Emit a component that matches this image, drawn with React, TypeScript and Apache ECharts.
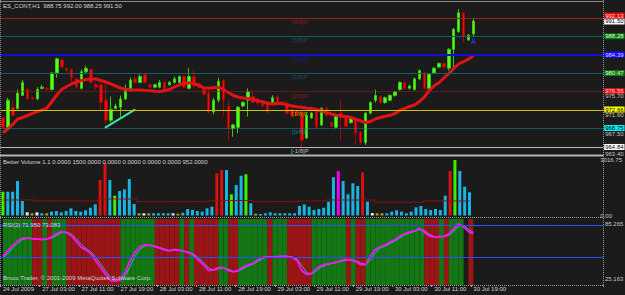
import React, { useEffect, useRef } from "react";
import * as echarts from "echarts";

// ---------- categories (hourly bars, ES_CONT H1) ----------
const sessions = [
  { day: "24 Jul", from: 19, to: 23 },
  { day: "27 Jul", from: 0, to: 23 },
  { day: "28 Jul", from: 0, to: 23 },
  { day: "29 Jul", from: 0, to: 23 },
  { day: "30 Jul", from: 0, to: 19 },
];
const barTimes: string[] = [];
sessions.forEach((s) => {
  for (let h = s.from; h <= s.to; h++) barTimes.push(`${s.day} ${String(h).padStart(2, "0")}:00`);
});
const SLOTS = 123; // visible bar slots incl. empty right margin
const slotLabels: string[] = barTimes.concat(Array(SLOTS - barTimes.length).fill(""));

// ---------- price data: [open, close, low, high] ----------
const candles: number[][] = [
  [971.0, 969.0, 968.75, 971.25], [969.0, 974.75, 968.75, 975.25], [973.25, 971.5, 971.5, 974.75], [973.0, 976.25, 972.75, 977.0],
  [975.75, 978.5, 975.75, 979.0], [977.0, 975.0, 974.75, 977.25], [975.25, 975.0, 974.75, 975.5], [975.0, 977.0, 974.75, 977.5],
  [977.25, 977.5, 977.0, 978.0], [977.25, 977.0, 976.75, 977.5], [977.0, 980.5, 976.75, 980.75], [980.5, 983.5, 979.5, 983.75],
  [983.25, 981.75, 981.5, 983.5], [981.5, 981.0, 980.75, 981.75], [981.25, 979.5, 978.5, 981.5], [979.25, 977.5, 977.25, 979.5],
  [977.25, 980.75, 977.0, 981.25], [980.75, 981.5, 980.5, 982.0], [981.25, 978.5, 978.5, 981.5], [978.0, 977.5, 977.0, 978.5],
  [978.0, 974.25, 972.75, 978.25], [974.75, 970.5, 968.75, 978.5], [970.5, 972.75, 970.0, 975.5], [973.0, 973.5, 973.0, 974.0],
  [973.25, 975.0, 971.25, 975.75], [975.0, 977.0, 974.75, 978.0], [977.0, 979.0, 976.5, 979.5], [979.25, 978.5, 978.5, 979.75],
  [978.5, 979.75, 978.5, 980.25], [980.25, 978.5, 978.25, 980.5], [978.0, 977.5, 977.25, 978.25], [977.5, 978.0, 977.25, 978.25],
  [977.5, 978.5, 977.25, 979.0], [978.5, 977.0, 976.75, 978.75], [978.0, 978.5, 977.75, 978.75], [978.5, 979.25, 978.25, 979.75],
  [978.5, 979.75, 978.25, 980.0], [979.75, 977.5, 977.25, 980.0], [977.25, 979.75, 977.0, 981.5], [979.75, 977.75, 977.25, 981.25],
  [978.25, 977.5, 977.25, 978.5], [977.0, 976.0, 975.75, 977.25], [976.25, 972.25, 972.0, 977.0], [972.25, 974.75, 971.75, 975.25],
  [974.75, 978.75, 974.25, 979.5], [979.0, 974.75, 971.5, 979.25], [973.5, 968.75, 966.25, 974.75], [968.75, 969.5, 967.0, 969.75],
  [969.0, 973.25, 967.75, 973.5], [973.5, 974.25, 973.25, 974.5], [974.75, 976.5, 971.25, 977.25], [975.5, 974.25, 974.25, 977.0],
  [975.0, 974.0, 973.75, 975.25], [974.25, 973.5, 973.25, 974.5], [974.25, 972.25, 972.0, 974.5], [974.25, 975.25, 974.0, 975.75],
  [975.5, 974.25, 974.0, 975.75], [974.25, 973.75, 973.5, 974.5], [974.0, 972.0, 971.75, 974.75], [972.75, 971.5, 971.25, 973.0],
  [972.5, 971.75, 971.5, 972.75], [972.0, 966.25, 964.75, 972.5], [966.75, 971.5, 966.5, 972.0], [971.0, 972.0, 970.75, 972.25],
  [972.75, 969.0, 968.75, 973.0], [969.5, 973.0, 969.25, 973.25], [973.0, 971.5, 971.25, 973.25], [970.0, 969.25, 969.0, 970.25],
  [969.0, 971.5, 968.75, 971.75], [972.0, 971.25, 966.25, 974.75], [971.25, 969.25, 969.0, 971.5], [970.0, 971.0, 969.75, 971.25],
  [970.5, 967.75, 965.25, 970.75], [968.0, 965.75, 965.25, 968.25], [965.75, 972.0, 965.25, 972.25], [972.0, 974.25, 971.75, 974.5],
  [974.75, 975.75, 974.25, 977.0], [975.5, 974.25, 974.0, 975.75], [974.25, 975.25, 974.0, 975.5], [974.75, 975.75, 974.5, 976.0],
  [975.75, 976.5, 975.5, 976.75], [977.0, 978.5, 976.75, 978.75], [978.5, 977.25, 977.0, 978.75], [977.25, 977.75, 977.0, 978.0],
  [977.0, 979.25, 976.75, 979.5], [979.25, 981.0, 979.0, 981.25], [980.5, 977.25, 977.0, 980.75], [977.25, 980.25, 977.0, 980.5],
  [980.5, 981.5, 980.25, 981.75], [981.75, 982.5, 981.5, 982.75], [982.5, 981.75, 981.5, 982.75], [981.5, 985.5, 981.0, 985.75],
  [985.5, 989.75, 981.75, 990.0], [989.25, 993.25, 989.0, 994.0], [993.25, 988.25, 987.0, 993.5], [987.5, 988.5, 987.25, 988.75],
  [988.75, 991.5, 988.25, 992.0],
];

const maLine = [
  967.86, 968.64, 969.6, 970.76, 971.08, 971.5, 971.92, 972.35, 972.66, 973.09,
  974.46, 975.84, 977.0, 977.64, 978.17, 978.59, 978.91, 979.12, 979.22, 979.22,
  978.91, 978.59, 978.17, 977.74, 977.32, 977.04, 976.96, 976.9, 976.9, 976.79,
  976.75, 976.64, 976.58, 976.73, 977.0, 977.53, 978.0, 978.31, 978.44, 978.27,
  977.89, 977.36, 977.26, 977.4, 977.47, 977.0, 976.37, 975.73, 975.41, 975.2,
  975.08, 974.95, 974.61, 974.4, 974.1, 973.93, 974.04, 974.08, 973.76, 973.51,
  973.34, 973.24, 973.02, 972.98, 972.77, 972.45, 972.13, 971.82, 971.56, 971.39,
  971.29, 971.08, 970.7, 970.34, 970.02, 970.23, 970.76, 971.08, 971.33, 971.54,
  971.92, 972.56, 973.02, 973.4, 973.72, 974.46, 975.41, 976.79, 977.78, 978.48,
  979.44, 980.39, 981.45, 982.4, 982.88, 983.46, 984.09,
];

// Murrey math levels
const murrey = [
  { v: 992.13, name: "[6/8]P", line: "#a31c1c", dash: "solid", w: 1, box: "#e01010", txt: "#ffd0d0", lift: -2.5 },
  { v: 988.28, name: "[5/8]P", line: "#0f5f6e", dash: "solid", w: 1, box: "#0b7a14", txt: "#d8ffd8", lift: 0 },
  { v: 984.39, name: "[4/8]P", line: "#1010d8", dash: "solid", w: 2, box: "#1010ff", txt: "#d8d8ff", lift: 0 },
  { v: 980.47, name: "[3/8]P", line: "#0f5f6e", dash: "solid", w: 1, box: "#157a15", txt: "#d8ffd8", lift: 0 },
  { v: 976.56, name: "[2/8]P", line: "#a31c1c", dash: "dotted", w: 1, box: "#d81414", txt: "#ffd0d0", lift: -0.5 },
  { v: 972.66, name: "[1/8]P", line: "#d0c000", dash: "solid", w: 1, box: "#ffff00", txt: "#000000", lift: -0.5 },
  { v: 968.75, name: "[0/8]P", line: "#1890a8", dash: "dotted", w: 1, box: "#00f0ff", txt: "#000000", lift: -0.5 },
  { v: 964.84, name: "[-1/8]P", line: "#b8b8b8", dash: "solid", w: 1, box: "#ffffff", txt: "#000000", lift: 0 },
];
const priceScaleLabels = [975.7, 971.6, 967.5, 963.4];
const lastBid = 991.5;
const trendLine = [[20.8, 968.9], [27.0, 972.8]];
const arrowMark = [96, 987.1];

// ---------- Better Volume ----------
const volumes = [
  1294, 1294, 1294, 1875, 788, 174, 120, 174, 120, 120,
  207, 245, 174, 245, 391, 245, 207, 283, 424, 609,
  1930, 2838, 1930, 1076, 1332, 1424, 1984, 625, 120, 120,
  120, 120, 120, 120, 120, 120, 98, 152, 353, 299,
  245, 207, 391, 478, 2294, 2473, 2473, 1152, 1658, 2164,
  2240, 663, 98, 82, 120, 174, 120, 120, 120, 120,
  120, 516, 609, 478, 299, 353, 424, 750, 2077, 2419,
  1875, 1152, 1750, 1604, 2348, 750, 136, 120, 120, 120,
  207, 283, 207, 120, 207, 446, 516, 353, 299, 353,
  299, 1076, 2419, 3016.75, 2419, 1566, 1261,
];
const volumeKind = (
  "G" + "CCCC" + "W" + "Y" + "W" + "C" + "Y" + "CCCCCCCCCC" + "RR" + "C" + "G" + "CCCC" + "Y" + "W" + "Y" +
  "CCCC" + "W" + "Y" + "CCCCCCC" + "RR" + "C" + "G" + "CC" + "G" + "C" + "Y" + "CCCCCCCCCCCCCCCC" + "M" +
  "CCCC" + "R" + "C" + "W" + "YY" + "CCCCCCCCCCCCC" + "R" + "G" + "CCC"
).split("");
const volumeAvg = [
  843, 843, 843, 843, 843, 843, 843,
  788, 788, 788, 788, 788, 788, 788, 788, 788, 788, 788, 788, 788,
  897, 897, 897, 897, 897, 897, 897, 897,
  750, 750, 750, 750, 750, 750, 750, 750, 750, 750, 750, 750, 750, 750, 750,
  815, 815, 815, 815, 815, 815, 815, 815, 815,
  750, 750, 750, 750, 750, 750, 750, 750, 750,
  788, 788, 788, 788, 788, 788,
  843, 843, 843, 843, 843, 843, 843, 843, 843, 843,
  718, 718, 718, 718, 718, 718, 718, 718, 718, 718,
  788, 788, 788, 788, 788, 788, 788, 788, 788, 788,
];
const volumeMax = 3016.75;

// ---------- RSI ----------
const rsi = [
  51.2, 56.6, 61.2, 65.4, 67.8, 67.8, 67.2, 66.9, 66.6, 67.2,
  69.0, 72.0, 73.8, 72.9, 69.9, 64.5, 59.3, 56.9, 53.3, 46.7,
  40.7, 34.6, 29.2, 28.6, 30.1, 37.3, 47.9, 55.4, 60.0, 61.8,
  61.2, 60.0, 58.7, 57.2, 56.3, 57.5, 56.6, 55.7, 54.5, 51.8,
  47.3, 43.1, 38.2, 38.9, 41.0, 41.0, 38.2, 37.0, 38.5, 41.6,
  43.3, 44.9, 48.2, 50.3, 50.9, 50.6, 50.9, 51.5, 51.2, 50.3,
  47.6, 38.2, 34.6, 35.8, 40.4, 42.8, 44.3, 44.9, 46.1, 47.3,
  48.5, 47.9, 46.7, 43.7, 43.7, 51.8, 57.5, 60.0, 61.5, 64.2,
  66.6, 69.6, 72.0, 73.5, 74.4, 76.8, 73.2, 69.9, 68.7, 69.3,
  69.3, 71.7, 76.2, 81.0, 78.3, 73.8, 71.95,
];
const rsiSignal = [
  50.0, 53.9, 58.9, 63.3, 66.6, 67.8, 67.5, 67.0, 66.7, 66.9,
  68.1, 70.5, 72.9, 73.3, 71.4, 67.2, 61.9, 58.1, 55.1, 50.0,
  43.7, 37.6, 31.9, 28.9, 29.4, 33.7, 42.6, 51.6, 57.7, 60.9,
  61.5, 60.6, 59.3, 57.9, 56.7, 56.9, 57.0, 56.1, 55.1, 53.1,
  49.5, 45.2, 40.6, 38.5, 40.0, 41.0, 39.6, 37.6, 37.7, 40.0,
  42.4, 44.1, 46.5, 49.2, 50.6, 50.7, 50.7, 51.2, 51.3, 50.7,
  48.9, 42.9, 36.4, 35.2, 38.1, 41.6, 43.5, 44.6, 45.5, 46.7,
  47.9, 48.2, 47.3, 45.2, 43.7, 47.7, 54.6, 58.7, 60.7, 62.8,
  65.4, 68.1, 70.8, 72.7, 73.9, 75.6, 75.0, 71.5, 69.3, 69.0,
  69.3, 70.5, 74.0, 78.6, 79.6, 76.0, 73.083,
];
const rsiZone = (
  "GGGGGG" + "RR" + "G" + "R" + "GGG" + "RRRRRRRRRRR" + "GGGGGGG" + "RRRRR" + "G" + "R" + "G" + "RRRRR" +
  "GG" + "RR" + "GGGGGG" + "R" + "GGG" + "RRRRR" + "GGGGGGG" + "R" + "G" + "RR" + "GGGGGGGGGGGG" + "RRR" +
  "G" + "R" + "GGG" + "-" + "R" + "-"
).split("");
const rsiLevels = [80, 50];
const rsiMin = 25.163;
const rsiMax = 85.265;

// ---------- styling ----------
const BG = "#1b1b1b";
const FONT = "Liberation Sans, Arial, sans-serif";
const TXT = "#d4d4d4";
const volColors: Record<string, string> = {
  C: "#18b4e4", R: "#d81010", G: "#3cf000", M: "#f000f0", W: "#e8e8e8", Y: "#a8a000",
};
const zoneColors: Record<string, string> = { R: "#9a1616", G: "#137813" };

function buildOption(): any {
  const PL = 0.5;
  const PW = 602.7;
  const BAND = PW / SLOTS;
  const isLabelBar = (i: number) =>
    i < barTimes.length && (i === 0 || /( 03| 11| 19):00$/.test(barTimes[i]));
  const catAxis = (gridIndex: number, showLabels: boolean) => ({
    type: "category",
    gridIndex,
    data: slotLabels,
    boundaryGap: true,
    axisLine: { show: false },
    axisTick: showLabels
      ? { show: true, length: 2, lineStyle: { color: "#a0a0a0" }, interval: isLabelBar }
      : { show: false },
    splitLine: { show: false },
    axisLabel: showLabels
      ? {
          show: true,
          interval: isLabelBar,
          formatter: (v: string, i: number) => (i === 0 ? "24 Jul 2009" : v),
          color: TXT,
          fontSize: 6,
          fontFamily: FONT,
          align: "left",
          margin: 1,
        }
      : { show: false },
  });
  const valAxisX = (gridIndex: number) => ({
    type: "value",
    gridIndex,
    min: -0.5,
    max: SLOTS - 0.5,
    show: false,
  });

  const boxLabel = (text: string, bg: string, fg: string, lift: number) => ({
    show: true, position: "end", distance: 1, formatter: text, color: fg,
    backgroundColor: bg, padding: [0, 1, 0, 1], fontSize: 6, lineHeight: 6, fontFamily: FONT,
    offset: [0, lift],
  });
  const priceMarks: any[] = [];
  priceScaleLabels.forEach((p) =>
    priceMarks.push({
      yAxis: p,
      lineStyle: { color: "rgba(0,0,0,0)", width: 0 },
      label: { show: true, position: "end", distance: 2, formatter: p.toFixed(2), color: "#c4c4c4", fontSize: 6, fontFamily: FONT },
    })
  );
  priceMarks.push({
    yAxis: lastBid,
    lineStyle: { color: "rgba(0,0,0,0)", width: 0 },
    label: boxLabel(lastBid.toFixed(2), "#ffffff", "#000000", 0.5),
  });
  murrey.forEach((m) =>
    priceMarks.push({
      yAxis: m.v,
      lineStyle: { color: m.line, width: m.w, type: m.dash },
      label: boxLabel(m.v.toFixed(2), m.box, m.txt, m.lift),
    })
  );

  return {
    animation: false,
    backgroundColor: BG,
    textStyle: { fontFamily: FONT },
    grid: [
      { left: PL, width: PW, top: 1, height: 154 },
      { left: PL, width: PW, top: 160, height: 55.5 },
      { left: PL, width: PW, top: 219, height: 66 },
      // zone histogram: each zone runs from one bar to the next (half-band offset)
      { left: PL + BAND / 2, width: PW, top: 219, height: 66 },
    ],
    xAxis: [catAxis(0, false), catAxis(1, false), catAxis(2, true), valAxisX(0), catAxis(3, false)],
    yAxis: [
      { type: "value", gridIndex: 0, min: 963.14, max: 995.73, show: false },
      {
        type: "value", gridIndex: 1, min: 0, max: volumeMax, interval: volumeMax, position: "right",
        axisLine: { show: false }, axisTick: { show: false }, splitLine: { show: false },
        axisLabel: { show: true, color: "#c4c4c4", fontSize: 6, fontFamily: FONT, margin: 2, formatter: (v: number) => v.toFixed(2) },
      },
      { type: "value", gridIndex: 2, min: rsiMin, max: rsiMax, show: false },
      { type: "value", gridIndex: 3, min: 0, max: 1, show: false },
    ],
    series: [
      {
        type: "bar",
        xAxisIndex: 4,
        yAxisIndex: 3,
        barWidth: "100%",
        barCategoryGap: 0,
        data: rsiZone.map((z) =>
          z === "-" ? { value: 0, itemStyle: { color: "rgba(0,0,0,0)" } } : { value: 1, itemStyle: { color: zoneColors[z] } }
        ),
        z: 1,
      },
      {
        type: "candlestick",
        xAxisIndex: 0,
        yAxisIndex: 0,
        data: candles,
        barWidth: 3,
        itemStyle: { color: "#58ff18", color0: "#e21212", borderColor: "#38c810", borderColor0: "#b00000", borderWidth: 1 },
        markLine: { silent: true, symbol: ["none", "none"], data: priceMarks },
        z: 3,
      },
      {
        type: "line",
        xAxisIndex: 0,
        yAxisIndex: 0,
        data: maLine,
        symbol: "none",
        lineStyle: { color: "#e01414", width: 3 },
        z: 4,
      },
      {
        type: "line",
        xAxisIndex: 3,
        yAxisIndex: 0,
        data: trendLine,
        symbol: "none",
        lineStyle: { color: "#34e8a4", width: 2 },
        z: 4,
      },
      {
        type: "scatter",
        xAxisIndex: 3,
        yAxisIndex: 0,
        symbolSize: 0,
        data: murrey.map((m) => ({
          value: [60.6, m.v],
          label: { show: true, position: "bottom", distance: 1, formatter: m.name, color: m.line === "#b8b8b8" ? "#e0e0e0" : m.line, fontSize: 6, fontFamily: FONT },
        })),
        z: 5,
      },
      {
        type: "scatter",
        xAxisIndex: 3,
        yAxisIndex: 0,
        symbolSize: 0,
        data: [{ value: arrowMark, label: { show: true, position: "inside", formatter: "A", color: "#2a3cff", fontSize: 8, fontWeight: "bold", fontFamily: FONT } }],
        z: 6,
      },
      {
        type: "bar",
        xAxisIndex: 1,
        yAxisIndex: 1,
        barWidth: 3,
        data: volumes.map((v, i) => ({ value: v, itemStyle: { color: volColors[volumeKind[i]] } })),
        z: 2,
      },
      {
        type: "line",
        xAxisIndex: 1,
        yAxisIndex: 1,
        data: volumeAvg,
        step: "middle",
        symbol: "none",
        lineStyle: { color: "#8c1212", width: 1 },
        z: 3,
      },
      {
        type: "line",
        xAxisIndex: 2,
        yAxisIndex: 2,
        data: rsiSignal,
        symbol: "none",
        lineStyle: { color: "#2ab4c8", width: 1 },
        markLine: {
          silent: true,
          symbol: ["none", "none"],
          lineStyle: { color: "#2a50ff", width: 1, type: "solid" },
          data: rsiLevels.map((l) => ({
            yAxis: l,
            label: { show: l === 50, position: "end", distance: 2, formatter: String(l), color: "#c4c4c4", fontSize: 6, fontFamily: FONT },
          })),
        },
        z: 3,
      },
      {
        type: "line",
        xAxisIndex: 2,
        yAxisIndex: 2,
        data: rsi,
        symbol: "none",
        lineStyle: { color: "#ff10ff", width: 1.8 },
        z: 4,
      },
    ],
    graphic: [
      { type: "line", shape: { x1: 0, y1: 1.5, x2: 603.5, y2: 1.5 }, style: { stroke: "#8a8a8a", lineWidth: 1 }, z: 10 },
      { type: "line", shape: { x1: 0.5, y1: 0, x2: 0.5, y2: 286 }, style: { stroke: "#8a8a8a", lineWidth: 1, lineDash: [1, 1] }, z: 10 },
      { type: "rect", shape: { x: 603.5, y: 219, width: 21.5, height: 67 }, style: { fill: BG }, z: 9 },
      { type: "line", shape: { x1: 603.5, y1: 0, x2: 603.5, y2: 286 }, style: { stroke: "#9a9a9a", lineWidth: 1, lineDash: [1, 1] }, z: 10 },
      { type: "line", shape: { x1: 0, y1: 155.5, x2: 603.5, y2: 155.5 }, style: { stroke: "#b4b4b4", lineWidth: 2 }, z: 10 },
      { type: "line", shape: { x1: 0, y1: 217.5, x2: 603.5, y2: 217.5 }, style: { stroke: "#a0a0a0", lineWidth: 1, lineDash: [1, 1] }, z: 10 },
      { type: "line", shape: { x1: 0, y1: 285.5, x2: 603.5, y2: 285.5 }, style: { stroke: "#a0a0a0", lineWidth: 1, lineDash: [1, 1] }, z: 10 },
      { type: "text", left: 3, top: 3, style: { text: "ES_CONT,H1  988.75 992.00 988.25 991.50", fill: TXT, fontSize: 6, fontFamily: FONT }, z: 10 },
      { type: "text", left: 3, top: 159, style: { text: "Better Volume 1.1 0.0000 1500.0000 0.0000 0.0000 0.0000 0.0000 952.0000", fill: TXT, fontSize: 6, fontFamily: FONT }, z: 10 },
      { type: "text", left: 3, top: 222, style: { text: "RSI(2) 71.950 73.083", fill: TXT, fontSize: 6, fontFamily: FONT }, z: 10 },
      { type: "text", left: 3, top: 275, style: { text: "Broco Trader, © 2001-2009 MetaQuotes Software Corp.", fill: TXT, fontSize: 6, fontFamily: FONT }, z: 10 },
      { type: "text", left: 605, top: 221, style: { text: rsiMax.toFixed(3), fill: "#c4c4c4", fontSize: 6, fontFamily: FONT }, z: 11 },
      { type: "text", left: 605, top: 276, style: { text: rsiMin.toFixed(3), fill: "#c4c4c4", fontSize: 6, fontFamily: FONT }, z: 11 },
    ],
  };
}

export default function App() {
  const ref = useRef<HTMLDivElement>(null);
  useEffect(() => {
    document.body.style.margin = "0";
    const chart = echarts.init(ref.current!, null, { renderer: "svg" });
    chart.setOption(buildOption());
    return () => chart.dispose();
  }, []);
  return <div ref={ref} style={{ width: 625, height: 295 }} />;
}
